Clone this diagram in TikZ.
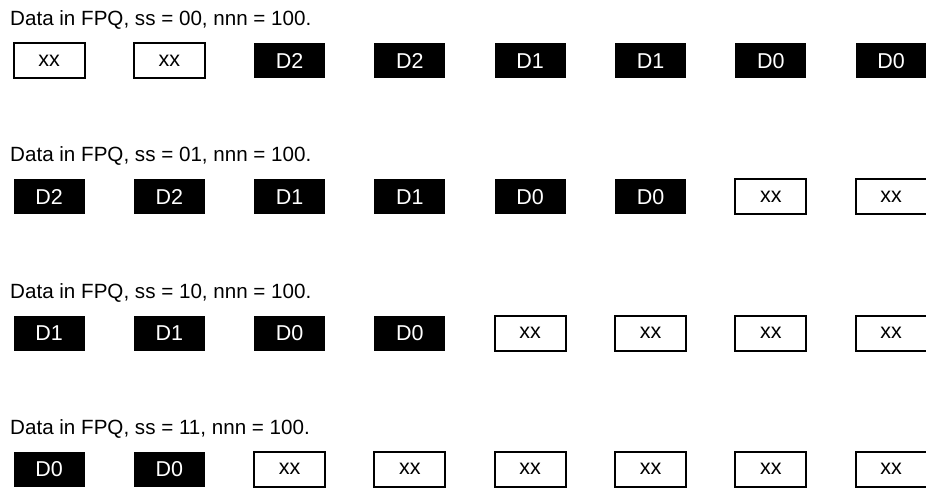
\documentclass[tikz,border=0pt]{standalone}
\usepackage{fontspec}
\setmainfont{Liberation Sans}
\begin{document}
\begin{tikzpicture}[x=1pt, y=-1pt,
  title/.style={anchor=base west, inner sep=0pt, font=\fontsize{20.6}{22}\selectfont},
  cell/.style={minimum width=71pt, minimum height=35pt, inner sep=0pt, font=\fontsize{21.5}{23}\selectfont},
  empty/.style={cell, draw=black, line width=2pt, fill=white, text=black},
  full/.style={cell, fill=black, text=white}]
\useasboundingbox (0,0) rectangle (926,489);

% one row: title and eight FPQ cells
\foreach \r/\ss/\cells in {
  0/00/{empty/xx,empty/xx,full/D2,full/D2,full/D1,full/D1,full/D0,full/D0},
  1/01/{full/D2,full/D2,full/D1,full/D1,full/D0,full/D0,empty/xx,empty/xx},
  2/10/{full/D1,full/D1,full/D0,full/D0,empty/xx,empty/xx,empty/xx,empty/xx},
  3/11/{full/D0,full/D0,empty/xx,empty/xx,empty/xx,empty/xx,empty/xx,empty/xx}} {
  \node[title] (t\r) at (10, 26+136*\r) {Data in FPQ, ss = \ss, nnn = 100.};
  \foreach [count=\i from 0] \st/\txt in \cells {
    \node[\st] (c\r-\i) at (49+120.3*\i, 61+136*\r) {\txt};
  }
}
\end{tikzpicture}
\end{document}
